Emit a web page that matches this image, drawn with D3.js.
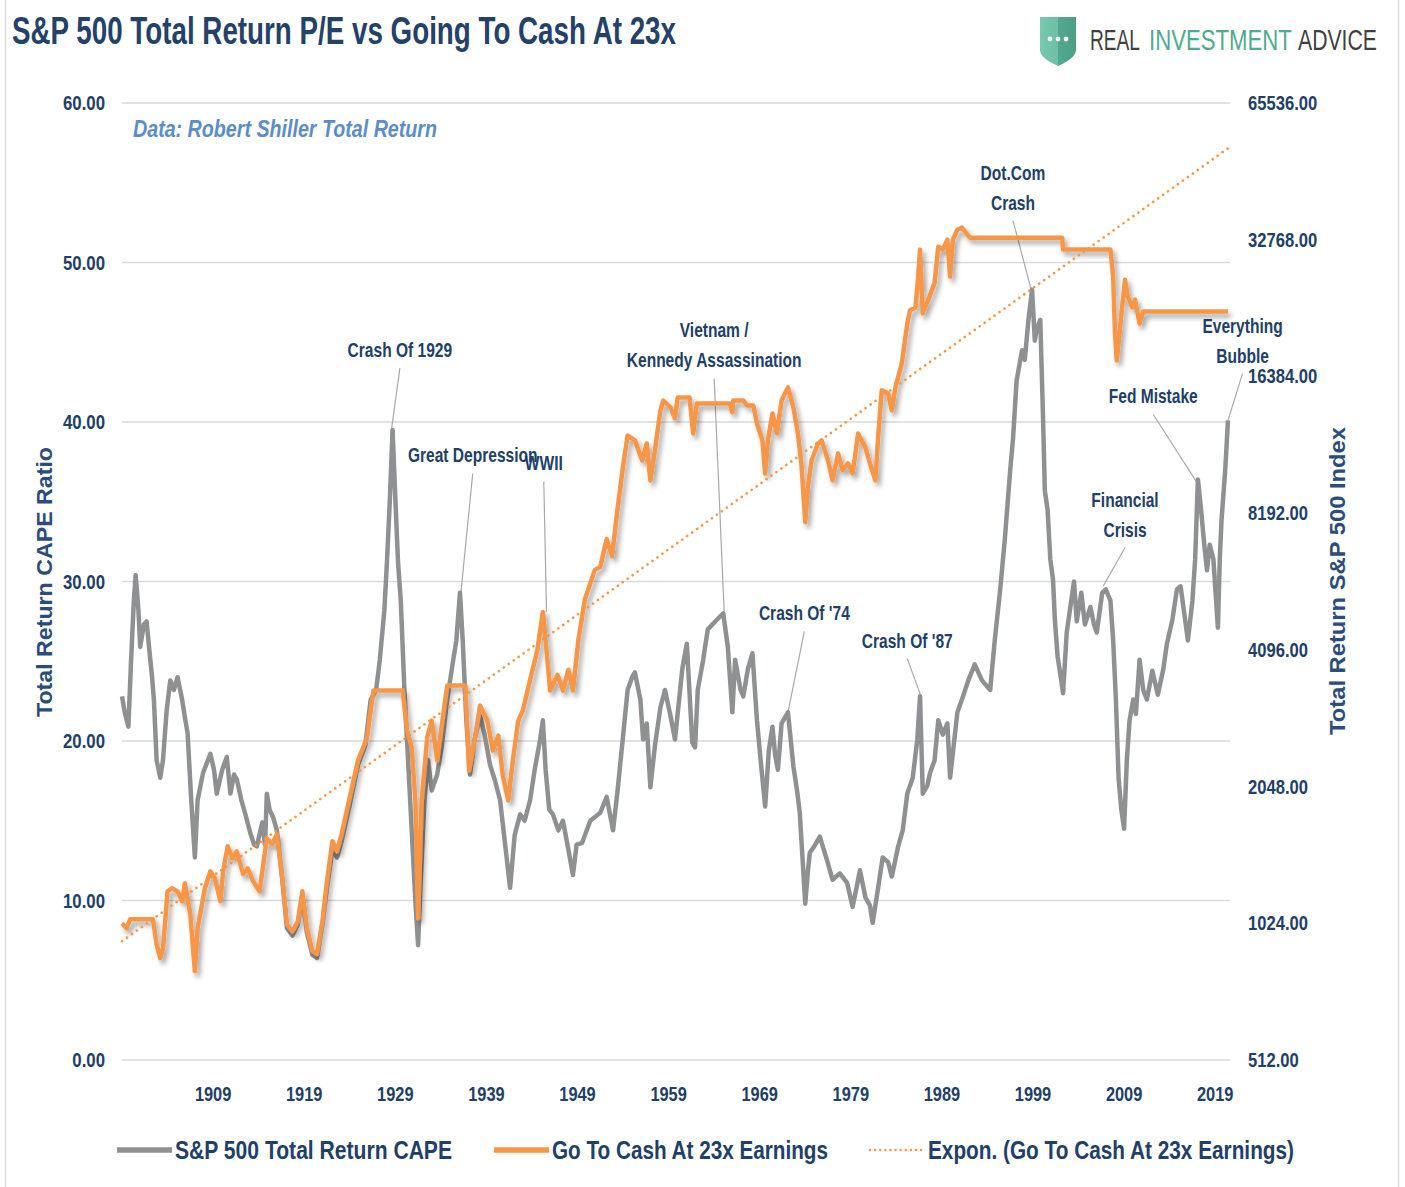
<!DOCTYPE html>
<html lang="en">
<head>
<meta charset="UTF-8">
<title>S&amp;P 500 Total Return P/E vs Going To Cash At 23x</title>
<script src="https://d3js.org/d3.v7.min.js"></script>
<style>
  body { margin: 0; background: #ffffff; }
  svg text { font-family: "Liberation Sans", Arial, sans-serif; font-weight: bold; }
</style>
</head>
<body>
<svg id="chart" width="1405" height="1187"></svg>
<script>
// --- data ---
const capeYears = [1899.0,1899.3,1899.7,1900.0,1900.3,1900.5,1900.8,1901.0,1901.4,1901.7,1902.0,1902.3,1902.5,1902.8,1903.2,1903.5,1903.9,1904.3,1904.7,1905.1,1905.6,1905.9,1906.2,1906.6,1907.0,1907.3,1907.9,1908.7,1909.1,1909.4,1910.0,1910.5,1910.9,1911.3,1911.6,1912.1,1912.5,1913.1,1913.5,1913.8,1914.4,1914.7,1914.9,1915.2,1915.6,1916.0,
  1916.6,1917.1,1917.7,1918.3,1918.8,1919.3,1919.9,1920.4,1921.0,1921.5,1922.1,1922.6,1923.1,1924.0,1924.9,1925.7,1926.3,1926.9,1927.3,1927.8,1928.1,1928.4,1928.7,1929.1,1929.3,1929.6,1930.0,1930.4,1930.8,1931.2,1931.5,1931.8,1932.2,1932.6,1933.0,1933.6,1934.1,1934.7,1935.2,1935.7,
  1936.1,1936.4,1936.8,1937.2,1937.7,1938.3,1938.8,1939.4,1939.9,1940.5,1941.0,1941.6,1942.1,1942.7,1943.2,1943.8,1944.3,1944.9,1945.2,1945.5,1945.9,1946.3,1946.9,1947.4,1948.0,1948.5,1948.9,1949.5,1950.4,1951.5,1952.2,1952.9,1953.4,1954.0,1954.5,1955.0,1955.3,1955.9,1956.2,1956.6,
  1957.0,1957.5,1958.1,1958.6,1959.2,1959.7,1960.5,1961.0,1961.6,1961.9,1962.2,1962.8,1963.3,1964.3,1965.0,1965.5,1966.0,1966.3,1966.9,1967.2,1967.7,1968.2,1968.7,1969.1,1969.6,1970.0,1970.4,1970.7,1971.0,1971.4,1972.1,1972.7,1973.1,1973.4,1974.0,1974.3,1974.5,1975.1,1975.6,1976.4,
  1977.0,1977.8,1978.6,1979.2,1979.7,1980.0,1980.6,1981.1,1981.4,1982.0,1982.5,1983.1,1983.5,1984.2,1984.7,1985.2,1985.8,1986.3,1986.6,1986.9,1987.4,1987.7,1988.2,1988.6,1989.1,1989.6,1989.9,1990.7,1991.2,1991.9,1992.6,1993.4,1994.3,1994.8,1995.4,1995.9,1996.5,1996.8,1997.2,1997.8,
  1998.1,1998.5,1998.9,1999.2,1999.4,1999.8,2000.1,2000.3,2000.6,2000.9,2001.2,2001.4,2001.7,2002.1,2002.3,2002.7,2003.2,2003.5,2003.8,2004.3,2004.7,2005.3,2005.7,2006.0,2006.6,2007.0,2007.5,2007.8,2008.1,2008.4,2008.7,2009.0,2009.3,2009.6,2010.0,2010.3,2010.7,2011.1,2011.5,2012.1,
  2012.7,2013.3,2013.7,2014.3,2014.8,2015.2,2015.7,2016.0,2016.5,2016.8,2017.1,2017.4,2017.8,2018.1,2018.4,2018.8,2019.1,2019.3,2019.5,2019.7,2020.1,2020.4];

const capeValues = [22.8,21.8,20.9,25.1,28.8,30.4,28.2,25.9,27.3,27.5,25.7,24.0,22.6,18.8,17.7,18.8,21.9,23.8,23.2,24.0,22.6,21.5,20.5,16.3,12.7,16.3,18.0,19.2,18.2,16.7,18.2,19.0,16.7,17.9,17.6,16.3,15.5,14.2,13.5,13.4,14.9,13.5,16.7,15.7,15.2,14.4,
  11.3,8.3,7.8,8.5,10.3,8.0,6.6,6.4,8.5,10.8,13.2,12.7,13.7,16.0,18.5,19.7,22.6,23.2,25.1,28.2,31.4,35.1,39.5,33.9,31.2,28.8,23.2,18.8,14.4,10.0,7.2,11.3,16.3,18.8,16.9,17.9,19.7,22.6,24.5,26.3,
  29.3,26.3,21.3,17.9,20.1,21.6,20.4,18.5,17.6,16.3,13.8,10.8,14.1,15.4,15.0,16.3,18.2,20.1,21.3,18.2,15.7,15.4,14.4,15.0,13.2,11.6,13.5,13.6,15.0,15.5,16.5,14.4,16.9,20.3,23.2,24.0,24.3,22.6,20.1,21.1,
  17.1,19.7,22.1,23.2,21.6,20.1,24.5,26.1,19.9,19.6,23.2,25.1,27.0,27.6,28.0,25.9,21.8,25.1,23.2,22.8,24.5,25.5,21.3,18.8,15.9,19.4,20.9,19.1,18.2,21.1,21.8,18.4,16.9,15.5,9.8,11.9,13.0,13.5,14.0,12.5,
  11.3,11.7,11.1,9.6,11.0,11.9,10.2,9.7,8.6,10.8,12.7,12.4,11.5,13.4,14.4,16.7,17.7,20.1,22.8,16.7,17.2,18.0,18.8,21.3,20.4,21.1,17.7,21.8,22.6,23.8,24.8,23.8,23.2,26.3,29.5,32.6,37.0,38.9,42.6,44.5,
  43.9,46.4,48.3,45.1,45.8,46.4,40.3,35.7,34.5,31.4,30.1,27.6,25.3,23.8,23.0,26.8,28.8,30.0,27.5,29.3,27.3,28.4,27.3,26.8,29.3,29.5,28.8,26.3,22.6,17.6,15.7,14.5,18.8,21.3,22.6,21.7,25.1,23.2,22.6,24.4,
  22.9,24.5,26.1,27.6,29.5,29.7,27.6,26.3,28.8,31.4,36.4,34.8,32.3,30.7,32.3,31.4,28.8,27.1,31.4,33.9,37.0,40.1];

const cashYears = [1899.0,1899.5,1899.9,1902.4,1902.8,1903.2,1903.5,1904.0,1904.5,1905.1,1905.6,1905.9,1906.5,1907.0,1907.3,1908.1,1908.7,1909.2,1909.8,1910.1,
  1910.6,1911.1,1911.6,1912.3,1912.8,1913.4,1914.1,1914.9,1915.5,1916.0,1916.6,1917.1,1917.7,1918.3,1918.8,1919.3,1919.9,1920.4,1921.0,1921.5,
  1922.1,1922.6,1923.1,1924.0,1924.9,1925.9,1926.6,1929.8,1930.3,1930.8,1931.2,1931.5,1931.9,1932.5,1933.0,1933.6,1934.1,1934.7,1936.7,1937.1,
  1937.7,1938.3,1939.1,1939.7,1940.3,1940.8,1941.4,1941.9,1942.5,1943.0,1943.8,1944.6,1945.2,1945.7,1946.0,1946.8,1947.4,1948.0,1948.5,1949.1,
  1949.8,1950.9,1951.5,1952.2,1952.8,1953.3,1954.0,1954.5,1955.3,1956.1,1956.6,1957.0,1957.5,1958.1,1958.4,1959.2,1959.7,1960.0,1961.3,1961.7,
  1962.1,1965.7,1966.0,1966.1,1967.2,1967.6,1968.3,1968.7,1969.3,1969.6,1969.9,1970.4,1970.9,1971.4,1972.1,1972.7,1973.2,1973.6,1974.0,1974.3,
  1974.7,1975.4,1975.8,1976.5,1977.0,1977.6,1978.1,1978.7,1979.2,1979.8,1980.6,1981.1,1981.7,1982.0,1982.4,1983.1,1983.5,1983.9,1984.6,1985.2,
  1985.5,1986.1,1986.4,1986.6,1986.9,1987.5,1988.2,1988.6,1989.1,1989.6,1989.9,1990.2,1990.7,1991.2,1991.8,1992.1,2002.2,2002.3,2007.5,2007.8,
  2008.0,2008.2,2008.6,2009.1,2009.4,2009.9,2010.2,2010.7,2011.1,2020.4];

const cashValues = [1024,998,1045,1045,921,858,902,1204,1223,1204,1145,1254,1072,803,998,1223,1333,1286,1145,1333,
  1513,1424,1475,1313,1353,1267,1204,1576,1529,1608,1286,1019,983,1034,1204,998,889,876,1034,1267,
  1552,1475,1608,1937,2337,2626,3332,3332,2721,2496,1909,1050,1909,2626,2862,2337,2790,3418,3418,2220,
  2586,3088,2862,2457,2652,2165,1909,2337,2862,3011,3519,4096,4965,3893,3332,3609,3332,3703,3332,4310,
  5280,6145,6239,7180,6589,8069,10399,12143,11846,10705,11665,9671,11269,13784,14499,14010,13244,14725,14725,12270,
  14287,14287,13650,14499,14499,14147,14147,12909,11846,10016,11846,13581,12270,14499,15499,14010,12270,10399,7827,9394,
  10705,11665,11846,10705,9671,11093,10173,10540,10016,12270,11435,10540,9671,12026,15270,15040,13784,15499,17499,21430,
  22905,23249,27164,31163,22544,24183,26346,31621,31163,32768,27164,32768,34473,34833,33613,33101,33101,31163,31163,27164,
  20382,17760,21430,26740,24543,23249,24183,21430,22774,22774];

// exponential trend of the cash series (straight on the log axis)
const trendYears = [1899.0, 2020.6];
const trendValues = [935, 52430];

const leftTicks = [0, 10, 20, 30, 40, 50, 60];
const rightTicks = [512, 1024, 2048, 4096, 8192, 16384, 32768, 65536];
const yearTicks = [1909, 1919, 1929, 1939, 1949, 1959, 1969, 1979, 1989, 1999, 2009, 2019];

const seriesNames = ["S&P 500 Total Return CAPE", "Go To Cash At 23x Earnings", "Expon. (Go To Cash At 23x Earnings)"];
const logoWords = ["REAL", "INVESTMENT", "ADVICE"];

const annotations = [
  {lines: ["Crash Of 1929"], year: 1929.5, cape: 44.5, tipYear: 1928.6, tipCape: 39.6},
  {lines: ["Great Depression"], year: 1937.5, cape: 37.9, tipYear: 1936.2, tipCape: 29.3},
  {lines: ["WWII"], year: 1945.3, cape: 37.4, tipYear: 1945.6, tipCape: 28.1},
  {lines: ["Vietnam /", "Kennedy Assassination"], year: 1964.0, cape: 44.8, tipYear: 1965.1, tipCape: 28.1},
  {lines: ["Crash Of '74"], year: 1973.9, cape: 28.0, tipYear: 1972.1, tipCape: 21.8},
  {lines: ["Crash Of '87"], year: 1985.2, cape: 26.3, tipYear: 1986.7, tipCape: 22.8},
  {lines: ["Dot.Com", "Crash"], year: 1996.8, cape: 54.7, tipYear: 1998.8, tipCape: 48.3},
  {lines: ["Everything", "Bubble"], year: 2022.0, cape: 45.1, tipYear: 2020.4, tipCape: 40.1},
  {lines: ["Fed Mistake"], year: 2012.2, cape: 41.6, tipYear: 2017.0, tipCape: 36.2},
  {lines: ["Financial", "Crisis"], year: 2009.1, cape: 34.2, tipYear: 2006.7, tipCape: 29.7}
];

// --- drawing ---
const width = 1405;
const height = 1187;
const navy = "#213f68";
const gray = "#8f9092";
const orange = "#f79646";

const svg = d3.select("#chart").attr("width", width).attr("height", height);

const x = d3.scaleLinear().domain([1899, 2020.8]).range([122, 1231.6]);
const yLeft = d3.scaleLinear().domain([0, 60]).range([1060, 103]);
const yRight = d3.scaleLog().base(2).domain([512, 65536]).range([1060, 103]);

// squeeze text horizontally (the source picture is narrow)
function squeeze(sel, k) {
  sel.each(function() {
    const n = this.getComputedTextLength();
    d3.select(this).attr("textLength", n * k).attr("lengthAdjust", "spacingAndGlyphs");
  });
}
function fitTo(sel, w) {
  sel.attr("textLength", w).attr("lengthAdjust", "spacingAndGlyphs");
}

const defs = svg.append("defs");
defs.append("filter")
  .attr("id", "shadow")
  .attr("filterUnits", "userSpaceOnUse")
  .attr("x", 0).attr("y", 0).attr("width", width).attr("height", height)
  .append("feDropShadow")
  .attr("dx", 3).attr("dy", 4).attr("stdDeviation", 2.5)
  .attr("flood-color", "#000").attr("flood-opacity", 0.35);

const grad = defs.append("linearGradient").attr("id", "shieldGrad")
  .attr("x1", "0%").attr("x2", "100%").attr("y1", "0%").attr("y2", "0%");
grad.append("stop").attr("offset", "0%").attr("stop-color", "#78c9ae");
grad.append("stop").attr("offset", "50%").attr("stop-color", "#6bbfa4");
grad.append("stop").attr("offset", "50%").attr("stop-color", "#53a88e");
grad.append("stop").attr("offset", "100%").attr("stop-color", "#4b9f86");

// frame
svg.append("rect")
  .attr("x", 5.5).attr("y", -2).attr("width", 1393).attr("height", 1200)
  .attr("fill", "none").attr("stroke", "#dcdcdc").attr("stroke-width", 1.5);

// title
svg.append("text")
  .attr("x", 12).attr("y", 44)
  .attr("fill", "#23416b")
  .style("font-size", "38px")
  .text("S&P 500 Total Return P/E vs Going To Cash At 23x")
  .call(fitTo, 664);

// logo
svg.append("path")
  .attr("d", "M1040,17 L1076,17 L1076,50 Q1076,58 1058,66 Q1040,58 1040,50 Z")
  .attr("fill", "url(#shieldGrad)");
svg.append("g").selectAll("circle")
  .data([-8, 0, 8])
  .enter().append("circle")
  .attr("cx", d => 1058 + d).attr("cy", 39).attr("r", 2.4)
  .attr("fill", "#ffffff");
const logoX = [1090, 1149, 1298];
const logoW = [50, 143, 79];
logoWords.forEach((w, i) => {
  const g = svg.append("g");
  const t = g.append("text")
    .style("font-size", "29px").style("font-weight", "normal")
    .attr("fill", i === 1 ? "#4eab91" : "#3f3f3f")
    .text(w);
  const k = logoW[i] / t.node().getComputedTextLength();
  g.attr("transform", `translate(${logoX[i]},50) scale(${k},1)`);
});

// gridlines
svg.append("g").selectAll("line")
  .data(leftTicks)
  .enter().append("line")
  .attr("x1", 122).attr("x2", 1230)
  .attr("y1", d => yLeft(d)).attr("y2", d => yLeft(d))
  .attr("stroke", "#d9d9d9").attr("stroke-width", 1.5);

// left axis labels
svg.append("g").selectAll("text")
  .data(leftTicks)
  .enter().append("text")
  .attr("x", 105).attr("y", d => yLeft(d) + 7)
  .attr("text-anchor", "end")
  .attr("fill", navy)
  .style("font-size", "21px")
  .text(d => d3.format(".2f")(d))
  .call(squeeze, 0.8);

// right axis labels
svg.append("g").selectAll("text")
  .data(rightTicks)
  .enter().append("text")
  .attr("x", 1248).attr("y", d => yRight(d) + 7)
  .attr("fill", navy)
  .style("font-size", "21px")
  .text(d => d3.format(".2f")(d))
  .call(squeeze, 0.79);

// year labels
svg.append("g").selectAll("text")
  .data(yearTicks)
  .enter().append("text")
  .attr("x", d => x(d)).attr("y", 1101)
  .attr("text-anchor", "middle")
  .attr("fill", navy)
  .style("font-size", "21px")
  .text(d => d)
  .call(squeeze, 0.78);

// axis titles
svg.append("text")
  .attr("transform", "translate(52,582) rotate(-90)")
  .attr("text-anchor", "middle")
  .attr("fill", "#2c4d7b")
  .style("font-size", "22px")
  .text("Total Return CAPE Ratio")
  .call(fitTo, 270);

svg.append("text")
  .attr("transform", "translate(1345,581) rotate(-90)")
  .attr("text-anchor", "middle")
  .attr("fill", "#2c4d7b")
  .style("font-size", "22px")
  .text("Total Return S&P 500 Index")
  .call(fitTo, 308);

// data note
svg.append("text")
  .attr("x", 133).attr("y", 137)
  .attr("fill", "#5b8dcb")
  .style("font-size", "24px").style("font-style", "italic")
  .text("Data: Robert Shiller Total Return")
  .call(fitTo, 304);

// annotations
const ann = svg.append("g");
annotations.forEach(a => {
  const cx = x(a.year);
  const cy = yLeft(a.cape);
  const n = a.lines.length;
  ann.append("line")
    .attr("x1", cx).attr("y1", cy + n * 15 + 3)
    .attr("x2", x(a.tipYear)).attr("y2", yLeft(a.tipCape))
    .attr("stroke", "#a9a9a9").attr("stroke-width", 1.2);
  a.lines.forEach((t, i) => {
    ann.append("text")
      .attr("x", cx)
      .attr("y", cy + (i - (n - 1) / 2) * 30 + 7)
      .attr("text-anchor", "middle")
      .attr("fill", navy)
      .style("font-size", "21px")
      .text(t)
      .call(squeeze, 0.74);
  });
});

// series
const capeData = d3.zip(capeYears, capeValues);
const cashData = d3.zip(cashYears, cashValues);
const trendData = d3.zip(trendYears, trendValues);

const capeLine = d3.line().x(d => x(d[0])).y(d => yLeft(d[1]));
const indexLine = d3.line().x(d => x(d[0])).y(d => yRight(d[1]));

svg.append("path")
  .datum(capeData)
  .attr("fill", "none")
  .attr("stroke", gray)
  .attr("stroke-width", 4.5)
  .attr("stroke-linejoin", "round")
  .attr("d", capeLine);

svg.append("path")
  .datum(cashData)
  .attr("fill", "none")
  .attr("stroke", orange)
  .attr("stroke-width", 4.5)
  .attr("stroke-linejoin", "round")
  .attr("filter", "url(#shadow)")
  .attr("d", indexLine);

svg.append("path")
  .datum(trendData)
  .attr("fill", "none")
  .attr("stroke", orange)
  .attr("stroke-width", 2.6)
  .attr("stroke-dasharray", "0.1,6")
  .attr("stroke-linecap", "round")
  .attr("d", indexLine);

// legend
const legendX = [117, 494, 870];
const legendW = [277, 276, 366];
const legend = svg.append("g");
seriesNames.forEach((name, i) => {
  const lx = legendX[i];
  const line = legend.append("line")
    .attr("x1", lx).attr("x2", lx + 55)
    .attr("y1", 1150).attr("y2", 1150);
  if (i === 0) line.attr("stroke", gray).attr("stroke-width", 5.5);
  if (i === 1) line.attr("stroke", orange).attr("stroke-width", 5.5);
  if (i === 2) line.attr("stroke", orange).attr("stroke-width", 2.4)
    .attr("stroke-dasharray", "0.1,5").attr("stroke-linecap", "round");
  legend.append("text")
    .attr("x", lx + 58).attr("y", 1159)
    .attr("fill", navy)
    .style("font-size", "26px")
    .text(name)
    .call(fitTo, legendW[i]);
});
</script>
</body>
</html>
